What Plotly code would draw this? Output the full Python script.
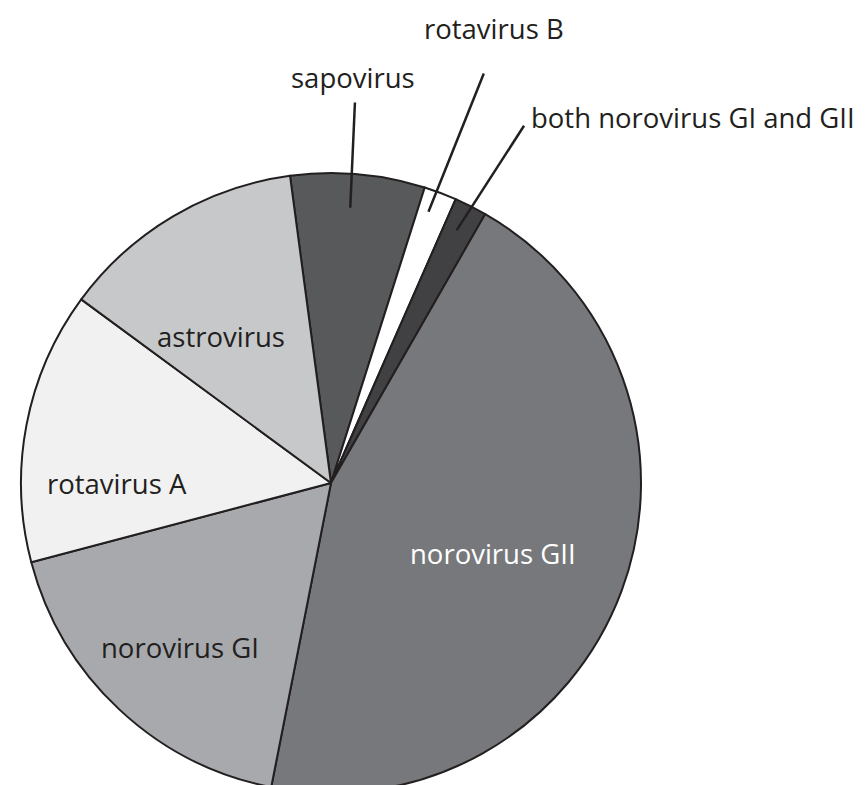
import math
import plotly.graph_objects as go

# ---- data ----
labels = ["sapovirus", "rotavirus B", "both norovirus GI and GII", "norovirus GII",
          "norovirus GI", "rotavirus A", "astrovirus"]
values = [7.0, 1.7, 1.7, 44.8, 17.8, 14.2, 12.8]

# ---- style ----
colors = ["#58595b", "#ffffff", "#414042", "#77787b", "#a7a9ac", "#f1f1f2", "#c7c8ca"]
text_colors = ["#231f20", "#231f20", "#231f20", "#ffffff", "#231f20", "#231f20", "#231f20"]
START_ANGLE = -7.6          # degrees clockwise from 12 o'clock where first slice starts
FONT = "Open Sans"
FONT_SIZE = 27.5
W, H = 866, 785
DOM_X = [12 / W, 634 / W]
DOM_Y = [0.0, 620 / H]

# label placement:
#  ("out", r_in, dang_in, r_out, dang_out, xanchor, yanchor, xshift, yshift)
#  ("in", r_frac, angle)
placement = [
    ("out", 0.89, -1.0, 1.23, -1.4, "center", "bottom", -2, 4),
    ("out", 0.93, -0.9, 1.41, -0.2, "center", "bottom", 10, 24),
    ("out", 0.91, -0.35, 1.31, 1.6, "left", "middle", 5, 8),
    ("in", 0.57, 113.4),
    ("in", 0.72, 222.4),
    ("in", 0.69, 270.0),
    ("in", 0.59, 323.2),
]

fig = go.Figure(go.Pie(
    labels=labels, values=values, sort=False, direction="clockwise",
    rotation=START_ANGLE, textinfo="none", hoverinfo="label+percent",
    marker=dict(colors=colors, line=dict(color="#231f20", width=2)),
    domain=dict(x=DOM_X, y=DOM_Y), showlegend=False,
))

# pie geometry in pixels (same rule plotly uses: radius = half of the smaller domain side)
cx = (DOM_X[0] + DOM_X[1]) / 2 * W
cy = H - (DOM_Y[0] + DOM_Y[1]) / 2 * H
R = min((DOM_X[1] - DOM_X[0]) * W, (DOM_Y[1] - DOM_Y[0]) * H) / 2


def to_paper(angle_deg, rfrac):
    a = math.radians(angle_deg)
    px = cx + rfrac * R * math.sin(a)
    py = cy - rfrac * R * math.cos(a)
    return px / W, 1 - py / H


total = sum(values)
cum = 0.0
shapes, annotations = [], []
for lab, v, tc, pl in zip(labels, values, text_colors, placement):
    mid = START_ANGLE + (cum + v / 2) / total * 360
    cum += v
    if pl[0] == "out":
        _, r_in, da_in, r_out, da_out, xa, ya, xs, ys = pl
        x0, y0 = to_paper(mid + da_in, r_in)
        x1, y1 = to_paper(mid + da_out, r_out)
        shapes.append(dict(type="line", xref="paper", yref="paper", x0=x0, y0=y0, x1=x1, y1=y1,
                           line=dict(color="#231f20", width=2.5)))
        annotations.append(dict(x=x1, y=y1, xref="paper", yref="paper", text=lab, showarrow=False,
                                xanchor=xa, yanchor=ya, xshift=xs, yshift=ys,
                                font=dict(family=FONT, size=FONT_SIZE, color=tc)))
    else:
        _, rf, ang = pl
        x, y = to_paper(ang, rf)
        annotations.append(dict(x=x, y=y, xref="paper", yref="paper", text=lab, showarrow=False,
                                xanchor="center", yanchor="middle",
                                font=dict(family=FONT, size=FONT_SIZE, color=tc)))

fig.update_layout(
    width=W, height=H, margin=dict(l=0, r=0, t=0, b=0),
    paper_bgcolor="white", plot_bgcolor="white",
    shapes=shapes, annotations=annotations,
    font=dict(family=FONT, size=FONT_SIZE, color="#231f20"),
)
fig.write_html("out.html")
